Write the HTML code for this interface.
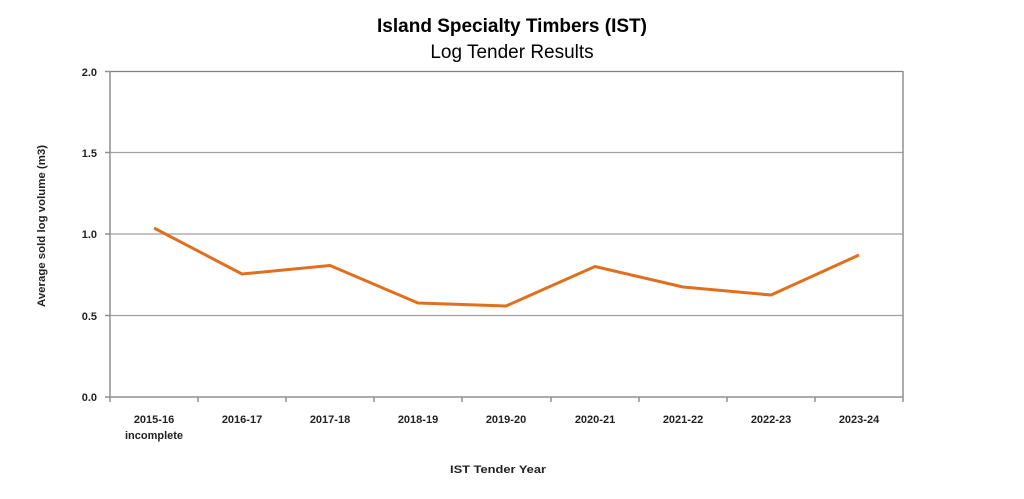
<!DOCTYPE html>
<html><head><style>body{margin:0;background:#fff}svg{display:block}</style></head><body>
<svg width="1024" height="499" xmlns="http://www.w3.org/2000/svg" font-family="'Liberation Sans', sans-serif">
<rect width="1024" height="499" fill="#fff"/>
<text x="512" y="32" text-anchor="middle" font-size="19" font-weight="bold" fill="#000">Island Specialty Timbers (IST)</text>
<text x="512" y="58" text-anchor="middle" font-size="19" fill="#000">Log Tender Results</text>
<g stroke="#a0a0a0" stroke-width="1.3">
<line x1="110" y1="71.5" x2="903" y2="71.5" stroke="#808080"/>
<line x1="110" y1="152.5" x2="903" y2="152.5"/>
<line x1="110" y1="234" x2="903" y2="234"/>
<line x1="110" y1="315.5" x2="903" y2="315.5"/>
</g>
<g stroke="#909090" stroke-width="1.5">
<line x1="110" y1="71" x2="110" y2="397"/>
<line x1="903" y1="71" x2="903" y2="397"/>
<line x1="105" y1="397" x2="903" y2="397"/>
<line x1="105" y1="71.5" x2="110" y2="71.5"/><line x1="105" y1="152.5" x2="110" y2="152.5"/><line x1="105" y1="234" x2="110" y2="234"/><line x1="105" y1="315.5" x2="110" y2="315.5"/>
<line x1="198" y1="397" x2="198" y2="402"/><line x1="286" y1="397" x2="286" y2="402"/><line x1="374" y1="397" x2="374" y2="402"/><line x1="462" y1="397" x2="462" y2="402"/><line x1="551" y1="397" x2="551" y2="402"/><line x1="639" y1="397" x2="639" y2="402"/><line x1="727" y1="397" x2="727" y2="402"/><line x1="815" y1="397" x2="815" y2="402"/><line x1="903" y1="397" x2="903" y2="402"/><line x1="110" y1="397" x2="110" y2="402"/>
</g>
<g font-size="11" font-weight="bold" fill="#222" text-anchor="end">
<text x="97" y="76">2.0</text><text x="97" y="157">1.5</text><text x="97" y="238">1.0</text><text x="97" y="320">0.5</text><text x="97" y="401">0.0</text>
</g>
<g font-size="11" font-weight="bold" fill="#222" text-anchor="middle">
<text x="154" y="423">2015-16</text><text x="154" y="439">incomplete</text>
<text x="242" y="423">2016-17</text><text x="330" y="423">2017-18</text><text x="418" y="423">2018-19</text><text x="506" y="423">2019-20</text><text x="595" y="423">2020-21</text><text x="683" y="423">2021-22</text><text x="771" y="423">2022-23</text><text x="859" y="423">2023-24</text>
<text x="498" y="473" textLength="96" lengthAdjust="spacingAndGlyphs">IST Tender Year</text>
<text transform="translate(45,226) rotate(-90)" textLength="162" lengthAdjust="spacingAndGlyphs">Average sold log volume (m3)</text>
</g>
<polyline fill="none" stroke="#e0701e" stroke-width="3" stroke-linejoin="round" points="154,228 242,274 330,265.5 418,303 506,306 595,266.5 683,287 771,295 859,255"/>
</svg>
</body></html>
